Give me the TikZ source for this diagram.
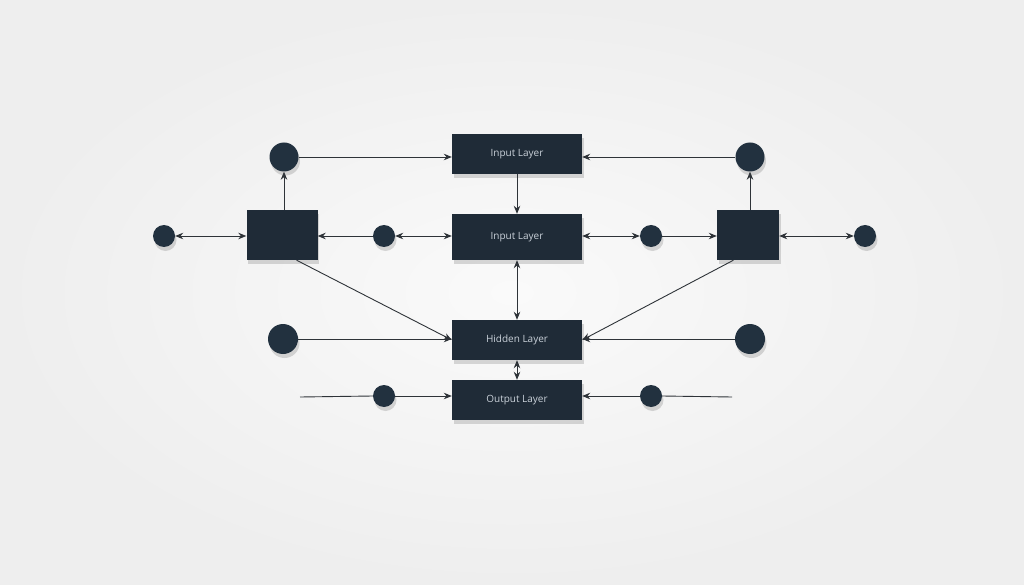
\documentclass[tikz,border=0pt]{standalone}
\usepackage{fontspec}
\setmainfont{Open Sans}
\usetikzlibrary{arrows.meta,shadows}
\definecolor{boxc}{HTML}{1F2B37}
\definecolor{dotc}{HTML}{22313F}
\definecolor{txtc}{HTML}{C9D1D9}
\definecolor{linec}{HTML}{2E3338}
\definecolor{bgin}{HTML}{FAFAFA}
\definecolor{bgout}{HTML}{EEEEEE}
\begin{document}
\begin{tikzpicture}[x=1pt,y=-1pt,
  shad/.style={drop shadow={shadow xshift=1.5pt,shadow yshift=-4pt,opacity=0.14,fill=black}},
  layerbox/.style={rectangle,fill=boxc,minimum width=130pt,minimum height=40pt,inner sep=0pt,
    text=txtc,font=\fontsize{10}{12}\selectfont,shad},
  sqbox/.style={rectangle,fill=boxc,minimum width=71pt,minimum height=50pt,inner sep=0pt,shad},
  bigdot/.style={circle,fill=dotc,minimum size=29pt,inner sep=0pt,shad},
  smalldot/.style={circle,fill=dotc,minimum size=22pt,inner sep=0pt,shad},
  conn/.style={draw=linec,line width=0.9pt,-{Stealth[length=8pt,width=6.5pt]}},
  both/.style={draw=linec,line width=0.9pt,{Stealth[length=8pt,width=6.5pt]}-{Stealth[length=8pt,width=6.5pt]}},
  plain/.style={draw=linec,line width=0.9pt}]
\useasboundingbox (0,0) rectangle (1024,585);
\shade[inner color=bgin,outer color=bgout] (0,0) rectangle (1024,585);

% layer boxes
\node[layerbox] (b1) at (517,154) {Input Layer};
\node[layerbox,minimum height=46pt] (b2) at (517,237) {Input Layer};
\node[layerbox] (b3) at (517,340) {Hidden Layer};
\node[layerbox] (b4) at (517,400) {Output Layer};

% squares
\node[sqbox] (sqL) at (282,235) {};
\node[sqbox,minimum width=62pt] (sqR) at (748,235) {};

% dots
\node[bigdot] (tl) at (284,157) {};
\node[bigdot] (tr) at (750,157) {};
\node[smalldot] (fl) at (164,236) {};
\node[smalldot] (ml) at (384,236) {};
\node[smalldot] (mr) at (651,236) {};
\node[smalldot] (fr) at (865,236) {};
\node[bigdot,minimum size=30pt] (hl) at (283,339) {};
\node[bigdot,minimum size=30pt] (hr) at (750,339) {};
\node[smalldot] (ol) at (384,396) {};
\node[smalldot] (or) at (651,396) {};
\coordinate (olfree) at (300,397);
\coordinate (orfree) at (732,397);

% top row
\draw[conn] (tl.east) -- (b1.west |- tl);
\draw[conn] (tr.west) -- (b1.east |- tr);
\draw[conn] (b1.south) -- (b2.north);

% middle row
\draw[both] (fl.east) -- (sqL.west |- fl);
\draw[conn] (ml.west) -- (sqL.east |- ml);
\draw[both] (ml.east) -- (b2.west |- ml);
\draw[both] (b2.east |- mr) -- (mr.west);
\draw[conn] (mr.east) -- (sqR.west |- mr);
\draw[both] (sqR.east |- fr) -- (fr.west);
\draw[conn] (sqR.north -| tr) -- (tr.south);
\draw[conn] (sqL.north -| tl) -- (tl.south);

% diagonals
\draw[conn] (sqL.-60) -- (b3.west);
\draw[conn] (sqR.-120) -- (b3.east);

% hidden row
\draw[conn] (hl.east) -- (b3.west |- hl);
\draw[conn] (hr.west) -- (b3.east |- hr);
\draw[both] (b2.south) -- (b3.north);
\draw[both] (b3.south) -- (b4.north);

% output row
\draw[plain] (olfree) -- (ol.west);
\draw[conn] (ol.east) -- (b4.west |- ol);
\draw[plain] (orfree) -- (or.east);
\draw[conn] (or.west) -- (b4.east |- or);
\end{tikzpicture}
\end{document}
